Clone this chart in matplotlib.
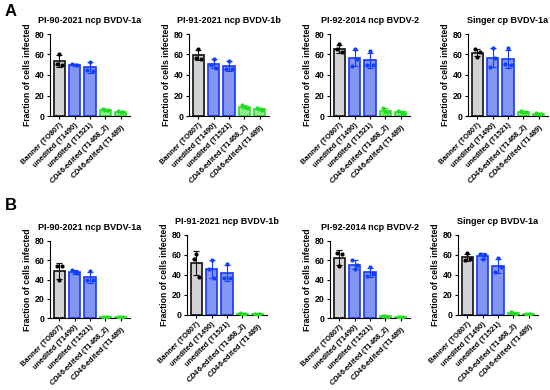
import numpy as np
import matplotlib.pyplot as plt

plt.rcParams['font.family'] = ['Liberation Sans', 'DejaVu Sans']
plt.rcParams['font.weight'] = 'bold'
plt.rcParams['mathtext.fontset'] = 'custom'
plt.rcParams['mathtext.it'] = 'Liberation Sans:italic:bold'
plt.rcParams['mathtext.rm'] = 'Liberation Sans:bold'

# data: each panel has 5 groups, 3 replicates each (fraction of cells infected, %)
categories = ["Banner (TO807)", "unedited (T1490)", "unedited (T1521)",
              r"$\mathit{CD46}$-edited (T1468_2)", r"$\mathit{CD46}$-edited (T1489)"]
titles = ["PI-90-2021 ncp BVDV-1a", "PI-91-2021 ncp BVDV-1b",
          "PI-92-2014 ncp BVDV-2", "Singer cp BVDV-1a"]

panel_a = [
    [[51, 60, 50], [51, 50, 49.5], [45, 53, 44], [7, 6, 5.5], [5, 4, 3.5]],
    [[57, 65, 56], [50, 56, 47], [46, 54, 46], [10.5, 9, 8], [8, 7, 5.5]],
    [[65, 70, 62], [49, 65, 56], [50, 63, 50], [7.5, 5, 3.5], [4.5, 3.5, 2.5]],
    [[65, 58, 62], [48, 66, 57], [51, 66, 50], [4.5, 3.5, 3.5], [2.5, 2, 2]],
]
panel_b = [
    [[54, 39, 54], [50, 47.5, 46.5], [39, 49, 39], [1, 1, 1], [0.7, 0.7, 0.7]],
    [[56, 61, 38], [46, 55, 37], [37, 51, 37], [2, 1.5, 1], [1, 0.8, 0.8]],
    [[68, 54, 66], [60, 51, 55], [44, 53, 46], [2.5, 2, 1.5], [1.2, 1, 0.8]],
    [[55, 62, 56], [61, 56, 60], [43, 57, 48], [3.5, 2.5, 1.5], [1.5, 1.3, 1]],
]

fills = ["#d3d3d3", "#8296f2", "#8296f2", "#90ee90", "#90ee90"]
edges = ["#111111", "#1638ff", "#1638ff", "#2ee02e", "#2ee02e"]
dots = ["#000000", "#1040ff", "#1040ff", "#22dd22", "#22dd22"]

W, H = 550, 390
fig = plt.figure(figsize=(W / 100, H / 100), dpi=100)

def px_axes(left, zero_y, top_y, width):
    return fig.add_axes([left / W, (H - zero_y) / H, width / W, (zero_y - top_y) / H])

def draw_panel(ax, groups, title):
    x = np.arange(len(groups))
    for i, reps in enumerate(groups):
        reps = np.array(reps)
        m, sd = reps.mean(), reps.std(ddof=1)
        ax.bar(i, m, width=0.72, color=fills[i], edgecolor=edges[i], linewidth=1.2, zorder=2)
        ax.errorbar(i, m, yerr=sd, color=edges[i], capsize=2, elinewidth=0.8,
                    capthick=0.8, zorder=3)
        ax.scatter(i + np.array([-0.17, 0, 0.17]), reps, s=9, color=dots[i], zorder=4,
                   linewidths=0)
    ax.set_xlim(-0.6, 4.6)
    ax.set_ylim(0, 80)
    ax.set_yticks([0, 20, 40, 60, 80])
    ax.set_xticks(x)
    ax.set_xticklabels(categories, rotation=45, ha='right', rotation_mode='anchor',
                       fontsize=5.4, fontweight='bold')
    ax.tick_params(axis='x', length=2.5, width=0.8, pad=1.5)
    ax.tick_params(axis='y', labelsize=6.3, length=2.5, width=0.8, pad=1.5)
    for lab in ax.get_yticklabels():
        lab.set_fontweight('bold')
    ax.spines['top'].set_visible(False)
    ax.spines['right'].set_visible(False)
    ax.spines['left'].set_linewidth(0.8)
    ax.spines['bottom'].set_linewidth(0.8)
    ax.set_ylabel("Fraction of cells infected", fontsize=6.2, fontweight='bold', labelpad=2)
    ax.set_title(title, fontsize=6.5, fontweight='bold', pad=8)

lefts_a = [50, 189, 330, 468]
lefts_b = [50, 187, 330, 458]
zero_b = [318, 315, 318, 315]
top_b = [241, 235, 241, 235]

for k in range(4):
    ax = px_axes(lefts_a[k], 116, 34, 80)
    draw_panel(ax, panel_a[k], titles[k])
    ax = px_axes(lefts_b[k], zero_b[k], top_b[k], 80)
    draw_panel(ax, panel_b[k], titles[k])

fig.text(5 / W, 1 - 16 / H, "A", fontsize=12, fontweight='bold')
fig.text(5 / W, 1 - 210 / H, "B", fontsize=12, fontweight='bold')

fig.savefig("out.png", dpi=100)
